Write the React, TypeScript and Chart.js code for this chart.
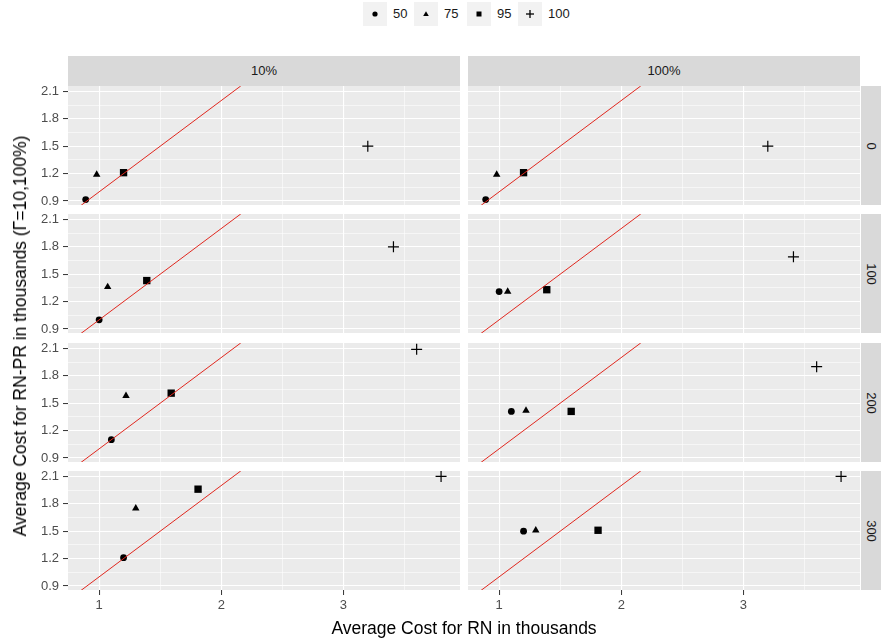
import React, { useEffect, useRef } from "react";
import { Chart, registerables } from "chart.js";

Chart.register(...registerables);

const FONT = '"Liberation Sans", Arial, Helvetica, sans-serif';

// ---- Facets & series ----
const facetCols = ["10%", "100%"];
const facetRows = ["0", "100", "200", "300"];
const seriesNames = ["50", "75", "95", "100"];

// ---- Data: Average cost for RN (x), in thousands, per facet row ----
const rnCostRow0 = [0.89, 0.98, 1.2, 3.2];
const rnCostRow100 = [1.0, 1.07, 1.39, 3.41];
const rnCostRow200 = [1.1, 1.22, 1.59, 3.6];
const rnCostRow300 = [1.2, 1.3, 1.81, 3.8];

// ---- Data: Average cost for RN-PR (y), in thousands, column 10% ----
const prCost10Row0 = [0.915, 1.19, 1.21, 1.5];
const prCost10Row100 = [1.0, 1.36, 1.43, 1.8];
const prCost10Row200 = [1.1, 1.58, 1.61, 2.09];
const prCost10Row300 = [1.21, 1.75, 1.96, 2.1];

// ---- Data: Average cost for RN-PR (y), in thousands, column 100% ----
const prCost100Row0 = [0.915, 1.19, 1.21, 1.5];
const prCost100Row100 = [1.31, 1.31, 1.33, 1.69];
const prCost100Row200 = [1.41, 1.42, 1.41, 1.9];
const prCost100Row300 = [1.5, 1.51, 1.51, 2.1];

// ---- Identity reference line (y = x) ----
const identityLine = [0.85, 2.16];

// ---- Ticks ----
const xMajorTicks = [1, 2, 3];
const xMinorTicks = [1.5, 2.5, 3.5];
const yMajorTicks = [0.9, 1.2, 1.5, 1.8, 2.1];
const yMinorTicks = [1.05, 1.35, 1.65, 1.95];

const X_MIN = 0.745;
const X_MAX = 3.955;
const Y_MIN = 0.856;
const Y_MAX = 2.159;

const rnCostByRow = [rnCostRow0, rnCostRow100, rnCostRow200, rnCostRow300];
const prCostByCol = [
  [prCost10Row0, prCost10Row100, prCost10Row200, prCost10Row300],
  [prCost100Row0, prCost100Row100, prCost100Row200, prCost100Row300],
];

// ---- Styles / layout ----
const pointStyles = ["circle", "triangle", "rect", "cross"];
const pointRadii = [3.4, 4.3, 5.2, 5.5];
const PANEL_LEFT = [68, 468];
const PANEL_W = 392;
const PANEL_TOP = [86, 214, 343, 471];
const PANEL_H = 119;
const Y_AXIS_W = 60;
const X_AXIS_H = 30;
const TICK_FONT = 13;
const TITLE_FONT = 17.5;

const isIn = (v: number | undefined, arr: number[]) =>
  v !== undefined && arr.some((a) => Math.abs(a - v) < 1e-6);

const panelBg = {
  id: "panelBg",
  beforeDraw(chart: any) {
    const { ctx, chartArea: a } = chart;
    ctx.save();
    ctx.fillStyle = "#EBEBEB";
    ctx.fillRect(a.left, a.top, a.right - a.left, a.bottom - a.top);
    ctx.restore();
  },
};

const zeroPad = (s: any) => {
  s.paddingTop = 0;
  s.paddingBottom = 0;
  s.paddingLeft = 0;
  s.paddingRight = 0;
};

function Panel({ col, row }: { col: number; row: number }) {
  const ref = useRef<HTMLCanvasElement>(null);
  const showY = col === 0;
  const showX = row === facetRows.length - 1;
  const yW = showY ? Y_AXIS_W : 0;
  const xH = showX ? X_AXIS_H : 0;
  const left = PANEL_LEFT[col] - yW;
  const top = PANEL_TOP[row];
  const w = PANEL_W + yW;
  const h = PANEL_H + xH;

  useEffect(() => {
    if (!ref.current) return;
    const xs = rnCostByRow[row];
    const ys = prCostByCol[col][row];
    const datasets: any[] = [
      {
        type: "line",
        label: "identity",
        data: identityLine.map((v) => ({ x: v, y: v })),
        borderColor: "#E0281F",
        borderWidth: 1,
        pointRadius: 0,
        showLine: true,
        fill: false,
        tension: 0,
        clip: 0,
      },
      ...seriesNames.map((name, i) => ({
        type: "scatter",
        label: name,
        data: [{ x: xs[i], y: ys[i] }],
        pointStyle: pointStyles[i],
        pointRadius: pointRadii[i],
        backgroundColor: "#000000",
        borderColor: "#000000",
        borderWidth: i === 3 ? 1.2 : 0,
        clip: false,
      })),
    ];

    const chart = new Chart(ref.current, {
      type: "scatter",
      data: { datasets },
      plugins: [panelBg],
      options: {
        animation: false,
        responsive: false,
        maintainAspectRatio: false,
        layout: { padding: 0, autoPadding: false } as any,
        plugins: {
          legend: { display: false },
          tooltip: { enabled: false },
        },
        scales: {
          x: {
            type: "linear",
            min: X_MIN,
            max: X_MAX,
            afterBuildTicks: (s: any) => {
              s.ticks = [...xMajorTicks, ...xMinorTicks]
                .sort((a, b) => a - b)
                .map((v) => ({ value: v }));
            },
            afterFit: (s: any) => {
              s.height = xH;
              zeroPad(s);
            },
            ticks: {
              display: showX,
              autoSkip: false,
              maxRotation: 0,
              padding: 3,
              color: "#4D4D4D",
              font: { family: FONT, size: TICK_FONT },
              callback: (v: any) => (isIn(Number(v), xMajorTicks) ? String(Number(v)) : ""),
            },
            grid: {
              color: "#FFFFFF",
              lineWidth: (c: any) => (isIn(c.tick?.value, xMajorTicks) ? 1.1 : 0.55),
              drawTicks: showX,
              tickLength: 5,
              tickWidth: 1,
              tickColor: (c: any) => (isIn(c.tick?.value, xMajorTicks) ? "#333333" : "rgba(0,0,0,0)"),
            },
            border: { display: false },
          },
          y: {
            type: "linear",
            min: Y_MIN,
            max: Y_MAX,
            afterBuildTicks: (s: any) => {
              s.ticks = [...yMajorTicks, ...yMinorTicks]
                .sort((a, b) => a - b)
                .map((v) => ({ value: v }));
            },
            afterFit: (s: any) => {
              s.width = yW;
              zeroPad(s);
            },
            ticks: {
              display: showY,
              autoSkip: false,
              padding: 4,
              color: "#4D4D4D",
              font: { family: FONT, size: TICK_FONT },
              callback: (v: any) => (isIn(Number(v), yMajorTicks) ? Number(v).toFixed(1) : ""),
            },
            grid: {
              color: "#FFFFFF",
              lineWidth: (c: any) => (isIn(c.tick?.value, yMajorTicks) ? 1.1 : 0.55),
              drawTicks: showY,
              tickLength: 5,
              tickWidth: 1,
              tickColor: (c: any) => (isIn(c.tick?.value, yMajorTicks) ? "#333333" : "rgba(0,0,0,0)"),
            },
            border: { display: false },
          },
        },
      } as any,
    });
    return () => chart.destroy();
  }, [col, row, xH, yW, showX, showY]);

  return (
    <canvas
      ref={ref}
      width={w}
      height={h}
      style={{ position: "absolute", left, top, width: w, height: h, display: "block" }}
    />
  );
}

function LegendSymbol({ kind }: { kind: number }) {
  return (
    <svg width={24} height={24} style={{ display: "block" }}>
      {kind === 0 && <circle cx={12} cy={12} r={2.6} fill="#000" />}
      {kind === 1 && <polygon points="12,9.2 14.8,14 9.2,14" fill="#000" />}
      {kind === 2 && <rect x={9.5} y={9.5} width={5} height={5} fill="#000" />}
      {kind === 3 && (
        <g stroke="#000" strokeWidth={1.3}>
          <line x1={8} y1={12} x2={16} y2={12} />
          <line x1={12} y1={8} x2={12} y2={16} />
        </g>
      )}
    </svg>
  );
}

const legendBoxLeft = [363, 414, 467, 518];

export default function App() {
  return (
    <div
      style={{
        position: "absolute",
        left: 0,
        top: 0,
        width: 881,
        height: 643,
        background: "#FFFFFF",
        fontFamily: FONT,
        overflow: "hidden",
      }}
    >
      {/* Legend */}
      {seriesNames.map((name, i) => (
        <React.Fragment key={name}>
          <div
            style={{
              position: "absolute",
              left: legendBoxLeft[i],
              top: 2,
              width: 24,
              height: 24,
              background: "#F2F2F2",
            }}
          >
            <LegendSymbol kind={i} />
          </div>
          <div
            style={{
              position: "absolute",
              left: legendBoxLeft[i] + 30,
              top: 2,
              height: 24,
              lineHeight: "24px",
              fontSize: 13,
              color: "#1A1A1A",
              whiteSpace: "nowrap",
            }}
          >
            {name}
          </div>
        </React.Fragment>
      ))}

      {/* Column strips */}
      {facetCols.map((lab, c) => (
        <div
          key={lab}
          style={{
            position: "absolute",
            left: PANEL_LEFT[c],
            top: 56,
            width: PANEL_W,
            height: 30,
            background: "#D9D9D9",
            color: "#1A1A1A",
            fontSize: 13,
            lineHeight: "30px",
            textAlign: "center",
          }}
        >
          {lab}
        </div>
      ))}

      {/* Row strips */}
      {facetRows.map((lab, r) => (
        <div
          key={lab}
          style={{
            position: "absolute",
            left: 861,
            top: PANEL_TOP[r],
            width: 20,
            height: PANEL_H,
            background: "#D9D9D9",
          }}
        >
          <div
            style={{
              position: "absolute",
              left: "50%",
              top: "50%",
              transform: "translate(-50%, -50%) rotate(90deg)",
              color: "#1A1A1A",
              fontSize: 13,
              whiteSpace: "nowrap",
            }}
          >
            {lab}
          </div>
        </div>
      ))}

      {/* Panels */}
      {facetRows.map((_, r) =>
        facetCols.map((__, c) => <Panel key={`${r}-${c}`} col={c} row={r} />)
      )}

      {/* Axis titles */}
      <div
        style={{
          position: "absolute",
          left: 68,
          width: 792,
          top: 618,
          textAlign: "center",
          fontSize: TITLE_FONT,
          lineHeight: "20px",
          color: "#000",
          whiteSpace: "nowrap",
        }}
      >
        Average Cost for RN in thousands
      </div>
      <div
        style={{
          position: "absolute",
          left: 20,
          top: 336,
          transform: "translate(-50%, -50%) rotate(-90deg)",
          fontSize: TITLE_FONT,
          lineHeight: "20px",
          color: "#000",
          whiteSpace: "nowrap",
        }}
      >
        Average Cost for RN-PR in thousands (Γ=10,100%)
      </div>
    </div>
  );
}
